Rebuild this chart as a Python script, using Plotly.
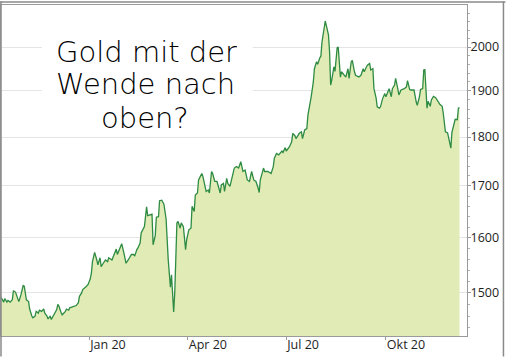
import plotly.graph_objects as go

dates = [
    "2019-10-11", "2019-10-12", "2019-10-14", "2019-10-15", "2019-10-17", "2019-10-18", "2019-10-20",
    "2019-10-22", "2019-10-23", "2019-10-25", "2019-10-27", "2019-10-28", "2019-10-30", "2019-11-01",
    "2019-11-02", "2019-11-03", "2019-11-04", "2019-11-06", "2019-11-07", "2019-11-09", "2019-11-10",
    "2019-11-12", "2019-11-13", "2019-11-15", "2019-11-16", "2019-11-18", "2019-11-20", "2019-11-21",
    "2019-11-23", "2019-11-24", "2019-11-26", "2019-11-27", "2019-11-29", "2019-11-30", "2019-12-02",
    "2019-12-03", "2019-12-04", "2019-12-06", "2019-12-07", "2019-12-08", "2019-12-10", "2019-12-11",
    "2019-12-13", "2019-12-14", "2019-12-17", "2019-12-20", "2019-12-22", "2019-12-23", "2019-12-25",
    "2019-12-26", "2019-12-29", "2019-12-31", "2020-01-02", "2020-01-03", "2020-01-04", "2020-01-06",
    "2020-01-08", "2020-01-09", "2020-01-11", "2020-01-12", "2020-01-14", "2020-01-16", "2020-01-18",
    "2020-01-19", "2020-01-22", "2020-01-24", "2020-01-26", "2020-01-27", "2020-01-29", "2020-01-31",
    "2020-02-02", "2020-02-04", "2020-02-06", "2020-02-09", "2020-02-11", "2020-02-12", "2020-02-14",
    "2020-02-15", "2020-02-17", "2020-02-18", "2020-02-21", "2020-02-23", "2020-02-24", "2020-02-26",
    "2020-02-28", "2020-02-29", "2020-03-02", "2020-03-03", "2020-03-05", "2020-03-06", "2020-03-08",
    "2020-03-10", "2020-03-12", "2020-03-14", "2020-03-16", "2020-03-17", "2020-03-18", "2020-03-19",
    "2020-03-20", "2020-03-22", "2020-03-23", "2020-03-25", "2020-03-26", "2020-03-28", "2020-03-30",
    "2020-03-31", "2020-04-02", "2020-04-04", "2020-04-05", "2020-04-07", "2020-04-08", "2020-04-10",
    "2020-04-11", "2020-04-14", "2020-04-15", "2020-04-17", "2020-04-18", "2020-04-20", "2020-04-21",
    "2020-04-23", "2020-04-24", "2020-04-26", "2020-04-28", "2020-05-01", "2020-05-02", "2020-05-04",
    "2020-05-05", "2020-05-07", "2020-05-08", "2020-05-10", "2020-05-11", "2020-05-14", "2020-05-16",
    "2020-05-18", "2020-05-20", "2020-05-22", "2020-05-24", "2020-05-26", "2020-05-28", "2020-05-30",
    "2020-06-01", "2020-06-03", "2020-06-05", "2020-06-06", "2020-06-07", "2020-06-10", "2020-06-11",
    "2020-06-14", "2020-06-17", "2020-06-19", "2020-06-20", "2020-06-22", "2020-06-24", "2020-06-27",
    "2020-06-28", "2020-06-30", "2020-07-01", "2020-07-03", "2020-07-04", "2020-07-06", "2020-07-07",
    "2020-07-09", "2020-07-10", "2020-07-12", "2020-07-13", "2020-07-15", "2020-07-16", "2020-07-18",
    "2020-07-20", "2020-07-21", "2020-07-23", "2020-07-24", "2020-07-26", "2020-07-27", "2020-07-29",
    "2020-07-30", "2020-08-01", "2020-08-02", "2020-08-03", "2020-08-04", "2020-08-05", "2020-08-06",
    "2020-08-08", "2020-08-09", "2020-08-10", "2020-08-11", "2020-08-12", "2020-08-14", "2020-08-15",
    "2020-08-17", "2020-08-18", "2020-08-20", "2020-08-21", "2020-08-24", "2020-08-25", "2020-08-27",
    "2020-08-28", "2020-08-30", "2020-08-31", "2020-09-02", "2020-09-03", "2020-09-06", "2020-09-08",
    "2020-09-10", "2020-09-11", "2020-09-13", "2020-09-14", "2020-09-16", "2020-09-17", "2020-09-19",
    "2020-09-20", "2020-09-22", "2020-09-23", "2020-09-25", "2020-09-26", "2020-09-28", "2020-09-30",
    "2020-10-01", "2020-10-03", "2020-10-04", "2020-10-06", "2020-10-07", "2020-10-09", "2020-10-10",
    "2020-10-12", "2020-10-13", "2020-10-15", "2020-10-16", "2020-10-18", "2020-10-20", "2020-10-21",
    "2020-10-23", "2020-10-24", "2020-10-26", "2020-10-27", "2020-10-29", "2020-10-30", "2020-11-01",
    "2020-11-02", "2020-11-04", "2020-11-05", "2020-11-06", "2020-11-08", "2020-11-09", "2020-11-11",
    "2020-11-12", "2020-11-14", "2020-11-16", "2020-11-19", "2020-11-20", "2020-11-22", "2020-11-23",
    "2020-11-25", "2020-11-27", "2020-11-29", "2020-11-30", "2020-12-01", "2020-12-03", "2020-12-04",
    "2020-12-06", "2020-12-07", "2020-12-08",
]

gold = [
    1490, 1491, 1484, 1490, 1484, 1487, 1484,
    1488, 1504, 1501, 1490, 1485, 1497, 1513,
    1512, 1500, 1488, 1485, 1472, 1460, 1457,
    1460, 1468, 1465, 1470, 1468, 1472, 1465,
    1460, 1455, 1460, 1454, 1461, 1462, 1471,
    1480, 1477, 1466, 1462, 1464, 1468, 1472,
    1470, 1474, 1476, 1478, 1483, 1494, 1500,
    1506, 1511, 1515, 1525, 1535, 1556, 1573,
    1559, 1550, 1563, 1547, 1553, 1559, 1556,
    1563, 1559, 1569, 1579, 1569, 1578, 1589,
    1572, 1553, 1559, 1569, 1569, 1566, 1578,
    1581, 1590, 1609, 1621, 1659, 1642, 1643,
    1645, 1587, 1604, 1639, 1640, 1671, 1672,
    1664, 1636, 1559, 1510, 1532, 1505, 1467,
    1500, 1628, 1631, 1618, 1628, 1621, 1578,
    1596, 1615, 1618, 1660, 1650, 1682, 1686,
    1712, 1725, 1719, 1696, 1689, 1692, 1686,
    1729, 1725, 1709, 1709, 1686, 1702, 1705,
    1689, 1715, 1705, 1699, 1709, 1736, 1739,
    1736, 1749, 1729, 1732, 1712, 1709, 1729,
    1712, 1709, 1696, 1687, 1712, 1736, 1729,
    1729, 1725, 1739, 1756, 1766, 1763, 1771,
    1768, 1778, 1771, 1777, 1780, 1790, 1808,
    1803, 1797, 1804, 1808, 1811, 1797, 1815,
    1818, 1847, 1869, 1887, 1920, 1950, 1966,
    1960, 1975, 1979, 2012, 2028, 2044, 2062,
    2040, 2028, 1989, 1913, 1924, 1954, 1944,
    1998, 2000, 1931, 1943, 1935, 1931, 1950,
    1928, 1966, 1969, 1943, 1935, 1931, 1935,
    1950, 1943, 1954, 1958, 1962, 1947, 1950,
    1905, 1884, 1865, 1862, 1865, 1883, 1894,
    1887, 1902, 1905, 1887, 1905, 1913, 1928,
    1905, 1891, 1902, 1903, 1905, 1909, 1923,
    1903, 1902, 1902, 1902, 1876, 1868, 1887,
    1903, 1905, 1947, 1948, 1862, 1877, 1866,
    1880, 1888, 1885, 1872, 1870, 1866, 1851,
    1811, 1809, 1788, 1777, 1810, 1830, 1838,
    1837, 1862, 1863,
]

x_tick_vals = ["2020-01-01", "2020-04-01", "2020-07-01", "2020-10-01"]
x_tick_text = ["Jan 20", "Apr 20", "Jul 20", "Okt 20"]
y_tick_vals = [1500, 1600, 1700, 1800, 1900, 2000]
y_tick_text = ["1500", "1600", "1700", "1800", "1900", "2000"]
y_minor_vals = [v for v in range(1420, 2120, 20) if v % 100 != 0]
title_lines = ["Gold mit der", "Wende nach", "oben?"]

W, H = 506, 357
L, R, T, B = 1, 38.5, 4.5, 20.5
PW, PH = W - L - R, H - T - B

def px(xp):
    return (xp - L) / PW

def py(yp):
    return (H - B - yp) / PH

fig = go.Figure()
# baseline for the area fill (log axis)
fig.add_trace(go.Scatter(x=[dates[0], dates[-1]], y=[1000, 1000], mode="lines",
                         line=dict(width=0, color="rgba(0,0,0,0)"), showlegend=False, hoverinfo="skip"))
fig.add_trace(go.Scatter(x=dates, y=gold, mode="lines", fill="tonexty",
                         fillcolor="#e0ebb6", line=dict(color="#2e8b42", width=1.3),
                         showlegend=False))

axis_col = "#9a9a9a"
fig.update_layout(
    width=W, height=H,
    margin=dict(l=L, r=R, t=T, b=B, pad=0),
    paper_bgcolor="white", plot_bgcolor="white",
    font=dict(family="Open Sans", size=12.5, color="#1e1e1e"),
    xaxis=dict(type="date", range=["2019-10-11 12:43", "2020-12-14 22:19"],
               tickmode="array", tickvals=x_tick_vals, ticktext=x_tick_text,
               ticks="outside", ticklen=3, tickcolor=axis_col, tickwidth=1,
               ticklabelposition="outside right", ticklabelstandoff=-3,
               showgrid=False, zeroline=False, showline=True, linecolor=axis_col,
               linewidth=1, mirror=True),
    yaxis=dict(type="log", side="right", range=[3.154204, 3.32241],
               tickmode="array", tickvals=y_tick_vals, ticktext=y_tick_text,
               ticks="outside", ticklen=3, tickcolor=axis_col, tickwidth=1,
               ticklabelstandoff=-3,
               showgrid=True, gridcolor="#e4e4e4", gridwidth=1, zeroline=False,
               showline=True, linecolor=axis_col, linewidth=1, mirror=True,
               minor=dict(tickmode="array", tickvals=y_minor_vals, ticks="outside",
                          ticklen=2, tickcolor="#b0b0b0", showgrid=False)),
)

frame_col = "#8a8a8a"
shapes = [
    # white backdrop behind the headline
    dict(type="rect", xref="paper", yref="paper", x0=px(42), x1=px(253), y0=py(132), y1=py(33),
         fillcolor="white", line=dict(width=0), layer="above"),
    # outer frame (left, top, right)
    dict(type="line", xref="paper", yref="paper", x0=px(1), x1=px(1), y0=py(357), y1=py(1),
         line=dict(color=frame_col, width=1.5)),
    dict(type="line", xref="paper", yref="paper", x0=px(0), x1=px(506), y0=py(1.5), y1=py(1.5),
         line=dict(color=frame_col, width=1.5)),
    dict(type="line", xref="paper", yref="paper", x0=px(504), x1=px(504), y0=py(357), y1=py(1),
         line=dict(color=frame_col, width=1.5)),
]
fig.update_layout(shapes=shapes)

centers = [(147, 51.5), (146, 84), (145, 117.5)]
for txt, (cx, cy) in zip(title_lines, centers):
    fig.add_annotation(text=txt, xref="paper", yref="paper", x=px(cx), y=py(cy),
                       xanchor="center", yanchor="middle", showarrow=False,
                       height=28, valign="middle", borderpad=0,
                       font=dict(family="DejaVu Sans", size=29, color="#000000", weight=200))

fig.write_html("out.html", config={"displayModeBar": False},
               post_script="document.body.style.margin='0';document.body.style.overflow='hidden';")
